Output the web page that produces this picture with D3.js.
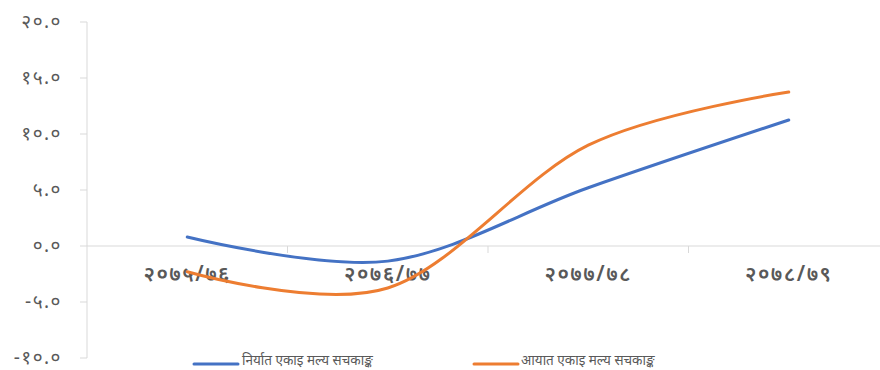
<!DOCTYPE html>
<html><head><meta charset="utf-8">
<script src="https://cdn.jsdelivr.net/npm/d3@7"></script>
<style>body{margin:0;background:#fff;} text{font-family:"Noto Sans","DejaVu Sans",sans-serif;fill:#595959;}</style>
</head><body><svg id="c" width="880" height="370"></svg>
<script>
const categories = ["२०७५/७६","२०७६/७७","२०७७/७८","२०७८/७९"];
const exportIndex = [0.8, -1.35, 5.2, 11.25];
const importIndex = [-2.3, -3.75, 9.0, 13.75];
const seriesNames = ["निर्यात एकाइ मल्य सचकाङ्क","आयात एकाइ मल्य सचकाङ्क"];
const yTicks = [-10,-5,0,5,10,15,20];
const yTickLabels = ["-१०.०","-५.०","०.०","५.०","१०.०","१५.०","२०.०"];

const svg = d3.select("#c");
const x = d3.scaleBand().domain(categories).range([87, 889]);
const y = d3.scaleLinear().domain([-10, 20]).range([358, 22]);
const colors = ["#4472C4", "#ED7D31"];

// y axis
svg.append("line").attr("x1",87).attr("x2",87).attr("y1",y(20)).attr("y2",y(-10)).attr("stroke","#d9d9d9");
yTicks.forEach((t,i)=>{
  svg.append("line").attr("x1",80).attr("x2",87).attr("y1",y(t)).attr("y2",y(t)).attr("stroke","#d9d9d9");
  svg.append("text").attr("x",62).attr("y",y(t)).attr("dy","0.3em").attr("text-anchor","end")
    .attr("font-size",19).attr("letter-spacing",1.5).text(yTickLabels[i]);
});
// x axis at zero
svg.append("line").attr("x1",87).attr("x2",880).attr("y1",y(0)).attr("y2",y(0)).attr("stroke","#d9d9d9");
categories.forEach((c,i)=>{
  if(i>0) svg.append("line").attr("x1",x(c)).attr("x2",x(c)).attr("y1",y(0)).attr("y2",y(0)+7).attr("stroke","#d9d9d9");
  svg.append("text").attr("x",x(c)+x.bandwidth()/2).attr("y",275).attr("dy","0.3em").attr("text-anchor","middle")
    .attr("font-size",21).attr("font-weight",600).attr("letter-spacing",1.5).text(c);
});

const line = d3.line().x((d,i)=>x(categories[i])+x.bandwidth()/2).y(d=>y(d)).curve(d3.curveCardinal.tension(0));
[exportIndex, importIndex].forEach((s,k)=>{
  svg.append("path").attr("d",line(s)).attr("fill","none").attr("stroke",colors[k]).attr("stroke-width",3).attr("stroke-linecap","round");
});

// legend
const leg = [{x1:194,x2:238,tx:242},{x1:474,x2:518,tx:521}];
leg.forEach((l,k)=>{
  svg.append("line").attr("x1",l.x1).attr("x2",l.x2).attr("y1",364).attr("y2",364).attr("stroke",colors[k]).attr("stroke-width",3).attr("stroke-linecap","round");
  svg.append("text").attr("x",l.tx).attr("y",361).attr("dy","0.3em").attr("font-size",13.5).text(seriesNames[k]);
});
</script></body></html>
